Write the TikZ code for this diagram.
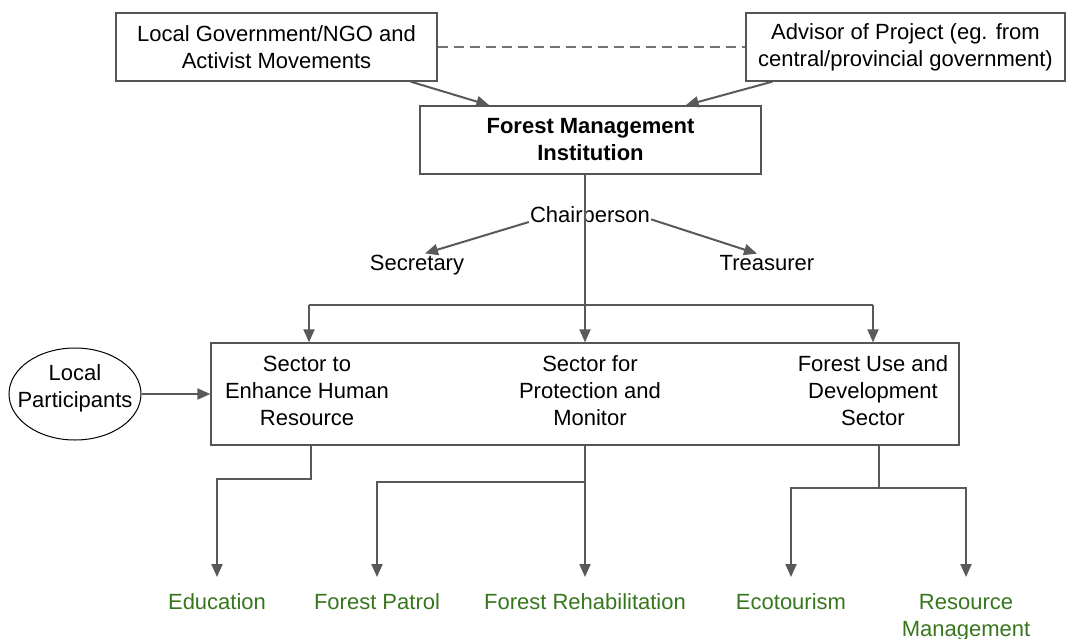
\documentclass[tikz,border=0pt]{standalone}
\usepackage{fontspec}
\setmainfont{Liberation Sans}
\usetikzlibrary{arrows.meta,shapes.geometric}
\definecolor{linegray}{HTML}{595959}
\definecolor{framegray}{HTML}{555555}
\definecolor{dashgray}{HTML}{737373}
\definecolor{leafgreen}{HTML}{38761D}
\begin{document}
\begin{tikzpicture}[x=1pt,y=-1pt,
  every node/.style={font=\fontsize{22}{27}\selectfont, align=center, text=black},
  orgbox/.style={draw=framegray, line width=1.3pt, inner sep=0pt},
  conn/.style={draw=linegray, line width=2pt},
  arr/.style={conn, -{Triangle[length=13pt,width=11pt]}},
  plain/.style={inner sep=1pt},
  leaf/.style={text=leafgreen, inner xsep=1pt, inner ysep=0pt, outer ysep=17pt, anchor=north},
]
\useasboundingbox (0,0) rectangle (1066,638);

% top row: partners and the institution
\node[orgbox, minimum width=321pt, minimum height=68pt] (gov) at (276.5,47)
  {Local Government/NGO and\\Activist Movements};
\node[orgbox, minimum width=319pt, minimum height=68pt] (adv) at (905.5,47)
  {Advisor of Project (eg. from\\central/provincial government)};
\node[orgbox, minimum width=341pt, minimum height=68pt,
      font=\fontsize{22}{27}\selectfont\bfseries] (fmi) at (590.5,140)
  {Forest Management\\Institution};

\draw[conn, draw=dashgray, dash pattern=on 10pt off 6pt] (gov.east) -- (adv.west);
\draw[arr] ([xshift=-27pt]gov.south east) -- ([xshift=70pt]fmi.north west);
\draw[arr] ([xshift=27pt]adv.south west) -- ([xshift=-76pt]fmi.north east);

% officers
\node[plain, anchor=base] (chair) at (590,222) {Chairperson};
\node[plain, anchor=base] (secr) at (417,270) {Secretary};
\node[plain, anchor=base] (treas) at (767,270) {Treasurer};
\draw[arr] (chair.base west) -- ([xshift=8pt]secr.north);
\draw[arr] (chair.mid east) -- ([xshift=-10pt]treas.north);

% sectors
\node[orgbox, minimum width=748pt, minimum height=102pt] (sectors) at (585,394) {};
\node (sec1) at (307,390.5) {Sector to\\Enhance Human\\Resource};
\node (sec2) at (590,390.5) {Sector for\\Protection and\\Monitor};
\node (sec3) at (873,390.5) {Forest Use and\\Development\\Sector};

\node[ellipse, draw=black, line width=1pt, minimum width=132pt, minimum height=92pt,
      inner sep=0pt] (local) at (75,394) {};
\node (localtxt) at (75,388) {Local\\Participants};
\draw[arr] (local.east) -- (sectors.west);

% institution to sectors
\draw[arr] (sectors.north |- fmi.south) -- (sectors.north);
\coordinate (busL) at (309,305);
\coordinate (busR) at (873,305);
\draw[conn] (busL) -- (busR);
\draw[arr] (busL) -- (busL |- sectors.north);
\draw[arr] (busR) -- (busR |- sectors.north);

% activities
\node[leaf] (edu) at (217,577) {Education};
\node[leaf] (patrol) at (377,577) {Forest Patrol};
\node[leaf] (rehab) at (585,577) {Forest Rehabilitation};
\node[leaf] (eco) at (791,577) {Ecotourism};
\node[leaf] (resm) at (966,577) {Resource\\Management};

\coordinate (out1) at ([xshift=-274pt]sectors.south);
\coordinate (out3) at ([xshift=294pt]sectors.south);
\coordinate (split2) at (585,482);
\draw[arr] (out1) -- ++(0,33) -| (edu.north);
\draw[arr] (sectors.south) -- (rehab.north);
\draw[arr] (split2) -| (patrol.north);
\draw[conn] (out3) -- ++(0,42) coordinate (split3);
\draw[arr] (split3) -| (eco.north);
\draw[arr] (split3) -| (resm.north);
\end{tikzpicture}
\end{document}
